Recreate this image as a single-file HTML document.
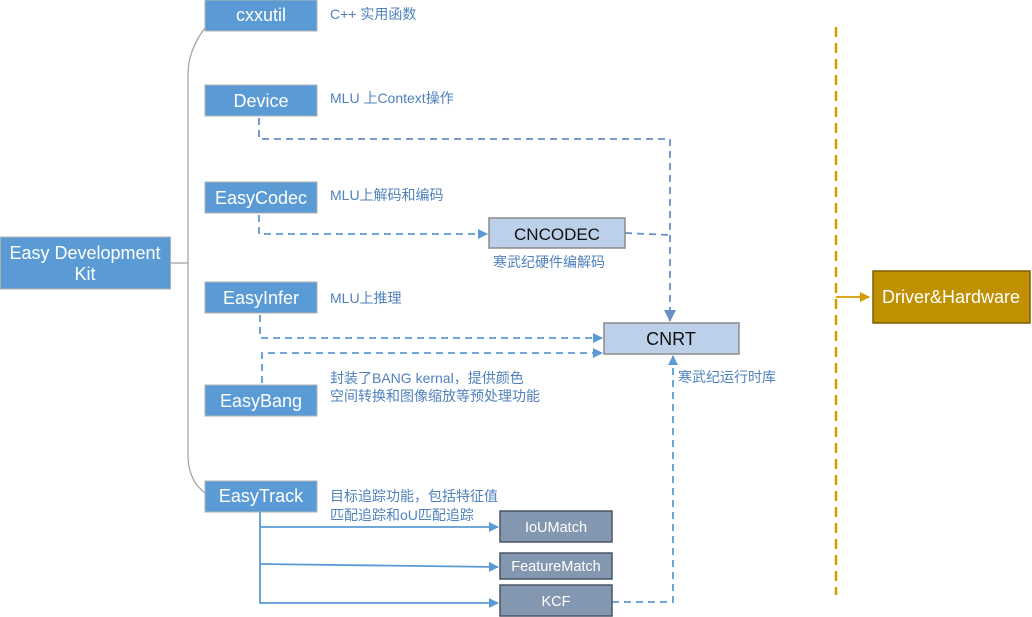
<!DOCTYPE html>
<html><head><meta charset="utf-8"><style>
html,body{margin:0;padding:0;background:#fff;}
svg{display:block;}
text{font-family:"Liberation Sans","Noto Sans CJK SC",sans-serif;}
</style></head><body>
<svg width="1032" height="617" viewBox="0 0 1032 617" xmlns="http://www.w3.org/2000/svg">
<defs>
<marker id="a" markerWidth="10" markerHeight="10" refX="9" refY="5" orient="auto" markerUnits="userSpaceOnUse"><path d="M0,0 L10,5 L0,10 z" fill="#5b9bd5"/></marker>
<marker id="ad" markerWidth="12" markerHeight="12" refX="11" refY="6" orient="auto" markerUnits="userSpaceOnUse"><path d="M0,0 L12,6 L0,12 z" fill="#6a8fc6"/></marker>
<marker id="ao" markerWidth="10" markerHeight="10" refX="9" refY="5" orient="auto" markerUnits="userSpaceOnUse"><path d="M0,0 L10,5 L0,10 z" fill="#d69b00"/></marker>
</defs>
<path d="M205,28 Q188,50 188,75 L188,455 Q188,480 205,493" fill="none" stroke="#a0a0a0" stroke-width="1.2"/>
<line x1="170" y1="263" x2="188" y2="263" stroke="#a0a0a0" stroke-width="1.2"/>
<rect x="0.5" y="237" width="170" height="52" fill="#5b9bd5" stroke="#b0b0b0"/>
<text x="85" y="259" font-size="18" fill="#fff" text-anchor="middle">Easy Development</text>
<text x="85" y="280" font-size="18" fill="#fff" text-anchor="middle">Kit</text>
<g stroke="#b0b0b0">
<rect x="205" y="0" width="112" height="31" fill="#5b9bd5"/>
<rect x="205" y="85" width="112" height="31" fill="#5b9bd5"/>
<rect x="205" y="182" width="112" height="31" fill="#5b9bd5"/>
<rect x="205" y="282" width="112" height="31" fill="#5b9bd5"/>
<rect x="205" y="385" width="112" height="31" fill="#5b9bd5"/>
<rect x="205" y="481" width="112" height="31" fill="#5b9bd5"/>
</g>
<g font-size="18" fill="#fff" text-anchor="middle">
<text x="261" y="21">cxxutil</text>
<text x="261" y="107">Device</text>
<text x="261" y="204">EasyCodec</text>
<text x="261" y="304">EasyInfer</text>
<text x="261" y="407">EasyBang</text>
<text x="261" y="502">EasyTrack</text>
</g>
<g font-size="14" fill="#4f81bd">
<text x="330" y="19">C++ 实用函数</text>
<text x="330" y="103">MLU 上Context操作</text>
<text x="330" y="200">MLU上解码和编码</text>
<text x="330" y="303">MLU上推理</text>
<text x="330" y="383">封装了BANG kernal，提供颜色</text>
<text x="330" y="401">空间转换和图像缩放等预处理功能</text>
<text x="330" y="501">目标追踪功能，包括特征值</text>
<text x="330" y="520">匹配追踪和oU匹配追踪</text>
<text x="493" y="267">寒武纪硬件编解码</text>
<text x="678" y="382">寒武纪运行时库</text>
</g>
<g fill="none" stroke-dasharray="7,5" stroke-width="1.8">
<path d="M259,118 L259,139 L670,139 L670,321" stroke="#6a8fc6" marker-end="url(#ad)"/>
<path d="M625,233 L670,235" stroke="#6a8fc6"/>
<path d="M259,215 L259,234 L487,234" stroke="#5b9bd5" marker-end="url(#a)"/>
<path d="M260,315 L260,338 L602,338" stroke="#5b9bd5" marker-end="url(#a)"/>
<path d="M262,383 L262,353 L602,353" stroke="#5b9bd5" marker-end="url(#a)"/>
<path d="M612,602 L673,602 L673,356" stroke="#5b9bd5" marker-end="url(#a)"/>
<path d="M836,27 L836,595" stroke="#d69b00" stroke-width="2.5" stroke-dasharray="10,6"/>
</g>
<line x1="836" y1="297" x2="869" y2="297" stroke="#d69b00" stroke-width="1.8" marker-end="url(#ao)"/>
<g fill="none" stroke="#5b9bd5" stroke-width="1.8">
<path d="M260,512 L260,603 L498,603" marker-end="url(#a)"/>
<path d="M260,527 L498,527" marker-end="url(#a)"/>
<path d="M260,564 L498,567" marker-end="url(#a)"/>
</g>
<rect x="489" y="218" width="136" height="30" fill="#bdd0ea" stroke="#8c8c8c" stroke-width="1.5"/>
<text x="557" y="240" font-size="17" fill="#111" text-anchor="middle">CNCODEC</text>
<rect x="604" y="323" width="135" height="31" fill="#bdd0ea" stroke="#8c8c8c" stroke-width="1.5"/>
<text x="671" y="345" font-size="18" fill="#111" text-anchor="middle">CNRT</text>
<g stroke="#4a5566" stroke-width="1.5" fill="#8497b0">
<rect x="500" y="511" width="112" height="31"/>
<rect x="500" y="553" width="112" height="26"/>
<rect x="500" y="585" width="112" height="31"/>
</g>
<g font-size="14.5" fill="#fff" text-anchor="middle">
<text x="556" y="532">IoUMatch</text>
<text x="556" y="571">FeatureMatch</text>
<text x="556" y="606">KCF</text>
</g>
<rect x="873" y="271" width="157" height="52" fill="#bf9000" stroke="#7f6000" stroke-width="1.5"/>
<text x="951" y="303" font-size="18" fill="#fff" text-anchor="middle">Driver&amp;Hardware</text>
</svg>
</body></html>
